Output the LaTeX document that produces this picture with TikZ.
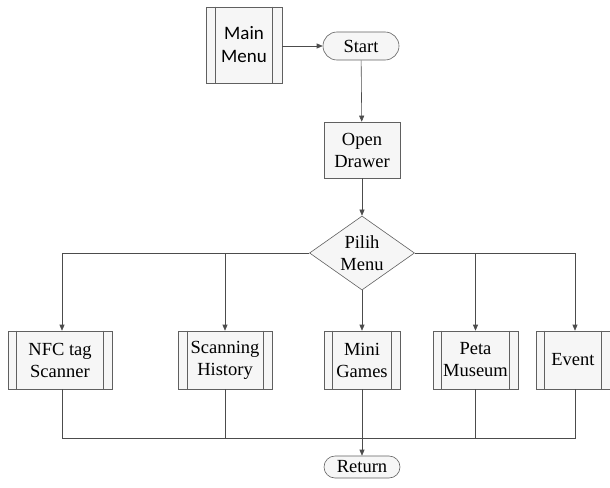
\documentclass[tikz,border=0pt]{standalone}
\usepackage{fontspec}
\setmainfont{Liberation Serif}
\newfontfamily\calib{Carlito}
\usetikzlibrary{arrows.meta,shapes.geometric}
\begin{document}
\begin{tikzpicture}[x=1pt,y=-1pt,
  shp/.style={draw=gray!75!black, fill=gray!7, line width=0.6pt, align=center, inner sep=1pt, font=\rmfamily\fontsize{18.5}{22}\selectfont},
  proc/.style={shp, rectangle, minimum width=76pt, minimum height=57pt},
  term/.style={shp, rectangle, minimum width=76pt, minimum height=28pt},
  dec/.style={shp, diamond, minimum width=105pt, minimum height=74pt, inner sep=0pt, aspect=1.42},
  conn/.style={draw=gray!60!black, line width=0.6pt},
  arr/.style={conn, -{Triangle[width=5pt,length=6pt]}},
  inner/.style={draw=gray!75!black, line width=0.6pt},
]
\useasboundingbox (0,0) rectangle (610,487);
\node[proc, minimum width=76pt, minimum height=76pt, font=\calib\fontsize{19}{23}\selectfont] (mm) at (244,45) {Main\\Menu};
\node[term, rounded corners=14pt] (start) at (361,46) {Start};
\node[proc, minimum height=56pt] (od) at (362,150) {Open\\Drawer};
\node[dec] (pm) at (362,253) {Pilih\\Menu};
\node[proc, minimum width=104pt, minimum height=58pt] (nfc) at (60,360) {NFC tag\\Scanner};
\node[proc, minimum width=94pt, minimum height=58pt] (sh) at (225,360) {Scanning\\History};
\node[proc, minimum width=76pt, minimum height=58pt] (mg) at (362,360) {Mini\\Games};
\node[proc, minimum width=85pt, minimum height=58pt] (pmu) at (475.5,360) {Peta\\Museum};
\node[proc, minimum width=74pt, minimum height=58pt] (ev) at (573,360) {Event};
\node[term, minimum height=22pt, rounded corners=11pt] (ret) at (362,467) {Return};
% inner lines of predefined processes
\foreach \n/\d in {mm/10, nfc/9, sh/9.5, mg/9, pmu/9, ev/9}{
  \draw[inner] ([xshift=\d pt]\n.north west) -- ([xshift=\d pt]\n.south west);
  \draw[inner] ([xshift=-\d pt]\n.north east) -- ([xshift=-\d pt]\n.south east);
}
\coordinate (jl) at (62,253);
\coordinate (jr) at (575,253);
\coordinate (bl) at (62,438);
\coordinate (br) at (575,438);
\draw[arr] (mm.east |- start) -- (start.west);
\draw[arr] (start) -- (od);
\draw[arr] (od) -- (pm);
\draw[conn] (pm.west) -- (jl);
\draw[conn] (pm.east) -- (jr);
\draw[arr] (jl) -- (jl |- nfc.north);
\draw[arr] (pm.west -| sh) -- (sh.north);
\draw[arr] (pm) -- (mg);
\draw[arr] (pm.east -| pmu) -- (pmu.north);
\draw[arr] (jr) -- (jr |- ev.north);
\draw[conn] (nfc.south -| bl) -- (bl) -- (br) -- (ev.south -| br);
\draw[conn] (sh.south) -- (sh.south |- bl);
\draw[conn] (pmu.south) -- (pmu.south |- bl);
\draw[arr] (mg.south) -- (ret.north);
\end{tikzpicture}
\end{document}
